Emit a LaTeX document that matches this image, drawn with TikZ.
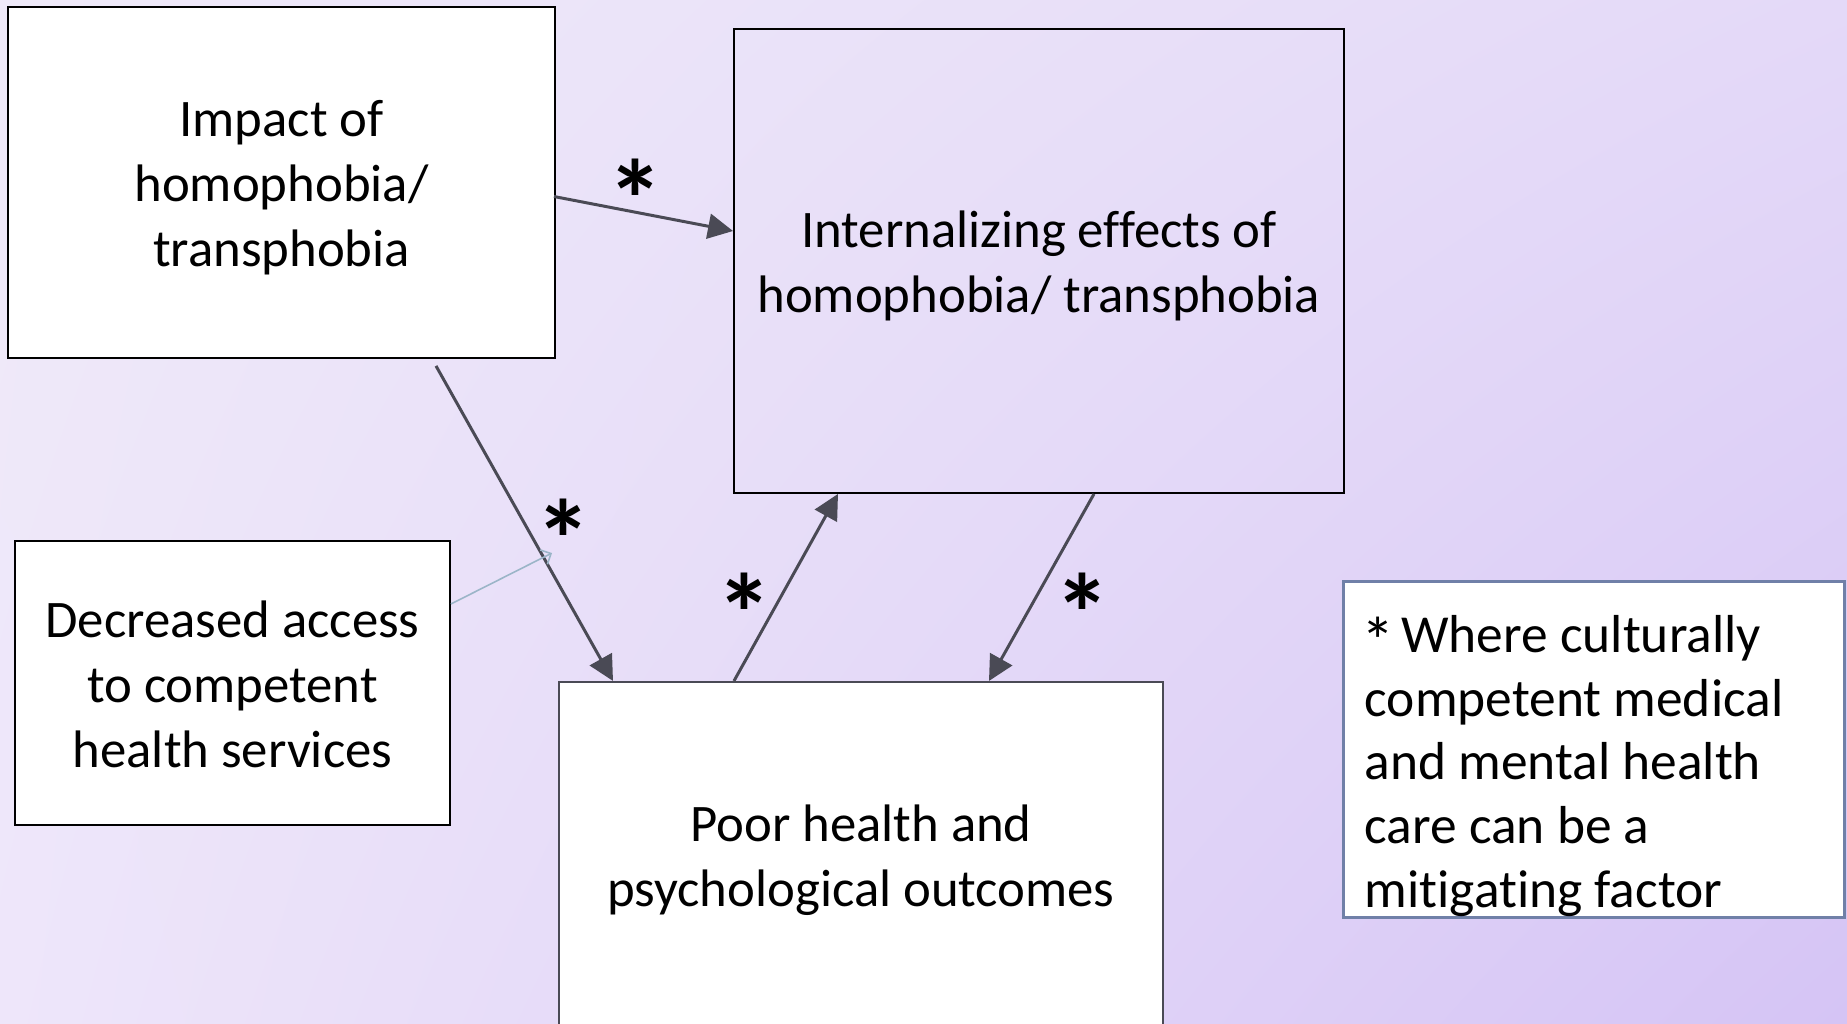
\documentclass[tikz,border=0pt]{standalone}
\usepackage{fontspec}
\setmainfont{Carlito}[Ligatures=NoCommon]
\usetikzlibrary{arrows.meta,calc,shadings}
\definecolor{arr}{HTML}{4A4A55}
\definecolor{lblue}{HTML}{9BB5C8}
\definecolor{noteborder}{HTML}{7080A8}
\definecolor{bgUL}{HTML}{EFEAF9}
\definecolor{bgUR}{HTML}{E4D9F8}
\definecolor{bgLL}{HTML}{EEE6FA}
\definecolor{bgLR}{HTML}{D5C4F5}
\tikzset{
  box/.style={draw=black, line width=0.45pt, fill=white, inner sep=0pt},
  boxtext/.style={inner sep=0pt, align=center, font=\fontsize{15}{18.5}\selectfont},
  mainarrow/.style={draw=arr, line width=0.85pt, -{Triangle[length=0.25cm,width=0.25cm]}},
  lightarrow/.style={draw=lblue, line width=0.45pt, -{Straight Barb[length=0.08cm,width=0.16cm]}},
  starlabel/.style={inner sep=0pt, font=\fontsize{32}{36}\selectfont\bfseries},
}
\begin{document}
\begin{tikzpicture}[x=0.01cm,y=-0.01cm]
\useasboundingbox (0,0) rectangle (1847,1023);
\shade[upper left=bgUL, upper right=bgUR, lower left=bgLL, lower right=bgLR] (0,0) rectangle (1847,1023);
\begin{scope}
\clip (0,0) rectangle (1847,1023);
\node[box, minimum width=5.47cm, minimum height=3.51cm] (A) at (281.5,182.5) {};
\node[boxtext] (At) at ($(A)+(0,5)$) {Impact of\\homophobia/\\transphobia};
\node[box, fill=none, minimum width=6.10cm, minimum height=4.64cm] (B) at (1039,261) {};
\node[boxtext] (Bt) at ($(B)+(0,5)$) {Internalizing effects of\\homophobia/ transphobia};
\node[box, minimum width=4.35cm, minimum height=2.84cm] (C) at (232.5,683) {};
\node[boxtext] (Ct) at ($(C)+(0,1)$) {Decreased access\\to competent\\health services};
\node[box, draw=arr, line width=0.55pt, minimum width=6.04cm, minimum height=3.46cm] (D) at (861,855) {};
\node[boxtext] (Dt) at ($(D)+(0,5)$) {Poor health and\\psychological outcomes};
\node[draw=noteborder, line width=0.85pt, fill=white, inner sep=0pt, minimum width=5.00cm, minimum height=3.35cm] (E) at (1594,749.5) {};
\node[anchor=west, align=left, inner sep=0pt, font=\fontsize{15.2}{18.1}\selectfont] (Et) at (1364,766) {\kern-1pt\raisebox{-3.4pt}{\fontsize{19}{18}\selectfont*}\kern-1.5pt{} Where culturally\\competent medical\\and mental health\\care can be a\\mitigating factor};
\end{scope}
\coordinate (cross) at (552,553);
\draw[mainarrow] ($(A.east)+(-2,14)$) -- ($(B.west)+(0,-30)$);
\draw[mainarrow] ($(A.south)+(154.5,7)$) -- ($(D.north)+(-248,0)$);
\draw[lightarrow] ($(C.east)+(0,-79)$) -- (cross);
\draw[mainarrow] ($(D.north)+(-127,0)$) -- ($(B.south)+(-201,0)$);
\draw[mainarrow] ($(B.south)+(55,0)$) -- ($(D.north)+(128,0)$);
\node[starlabel] (s1) at (636,199) {*};
\node[starlabel] (s2) at (564,539) {*};
\node[starlabel] (s3) at (745,613) {*};
\node[starlabel] (s4) at (1083,613) {*};
\end{tikzpicture}
\end{document}
